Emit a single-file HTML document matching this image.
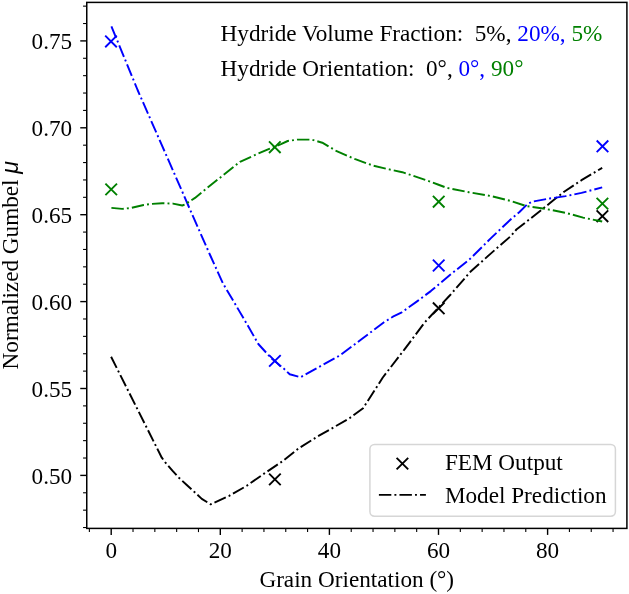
<!DOCTYPE html><html><head><meta charset="utf-8"><style>html,body{margin:0;padding:0;background:#fff;}svg{display:block;will-change:transform;}text{font-family:"Liberation Serif",serif;white-space:pre;}</style></head><body>
<svg width="629" height="594" viewBox="0 0 629 594">
<rect width="629" height="594" fill="#fff"/>
<path d="M105.20,35.65L116.80,47.25M105.20,47.25L116.80,35.65" stroke="#0000ff" stroke-width="1.9" fill="none"/>
<path d="M269.10,355.10L280.70,366.70M269.10,366.70L280.70,355.10" stroke="#0000ff" stroke-width="1.9" fill="none"/>
<path d="M432.90,259.70L444.50,271.30M432.90,271.30L444.50,259.70" stroke="#0000ff" stroke-width="1.9" fill="none"/>
<path d="M596.70,140.50L608.30,152.10M596.70,152.10L608.30,140.50" stroke="#0000ff" stroke-width="1.9" fill="none"/>
<path d="M105.40,183.60L117.00,195.20M105.40,195.20L117.00,183.60" stroke="#008000" stroke-width="1.9" fill="none"/>
<path d="M269.00,141.40L280.60,153.00M269.00,153.00L280.60,141.40" stroke="#008000" stroke-width="1.9" fill="none"/>
<path d="M432.90,195.90L444.50,207.50M432.90,207.50L444.50,195.90" stroke="#008000" stroke-width="1.9" fill="none"/>
<path d="M596.60,197.80L608.20,209.40M596.60,209.40L608.20,197.80" stroke="#008000" stroke-width="1.9" fill="none"/>
<path d="M269.10,473.55L280.70,485.15M269.10,485.15L280.70,473.55" stroke="#000000" stroke-width="1.9" fill="none"/>
<path d="M432.90,302.50L444.50,314.10M432.90,314.10L444.50,302.50" stroke="#000000" stroke-width="1.9" fill="none"/>
<path d="M596.60,210.40L608.20,222.00M596.60,222.00L608.20,210.40" stroke="#000000" stroke-width="1.9" fill="none"/>
<polyline points="111.1,356.8 161.8,457.7 165.3,462.4 172.4,470.6 178.9,477.7 186.5,484.8 194.2,491.8 201.8,498.9 210.6,504.3 229.2,495.8 246.7,485.8 263.7,473.9 266.8,471.8 282.7,461.1 298.6,448.4 317.7,436.4 333.6,427.4 349.5,418.2 363.1,408.2 370.0,397.5 382.8,377.5 404.7,349.1 424.4,322.8 450.2,295.0 470.4,271.8 490.7,253.6 510.9,236.0 516.4,229.5 533.8,216.0 549.7,203.3 564.1,191.7 581.5,180.2 602.2,167.8" fill="none" stroke="#000000" stroke-width="1.94" stroke-dasharray="12.42 3.10 1.94 3.10" stroke-linejoin="round"/>
<polyline points="111.4,26.3 137.6,90.0 180.5,187.6 191.3,212.5 210.3,255.5 222.9,283.3 235.6,304.8 248.2,326.3 258.3,344.0 271.0,357.9 283.6,368.4 289.7,374.3 300.6,377.2 317.3,367.9 339.5,355.7 361.8,339.0 384.0,322.3 392.9,316.7 401.8,312.3 417.4,301.1 430.8,291.1 450.2,274.8 470.4,258.6 490.7,238.4 510.9,219.2 519.5,212.0 527.5,204.1 532.3,201.7 549.7,198.5 565.6,196.1 581.5,192.9 602.2,187.4" fill="none" stroke="#0000ff" stroke-width="1.94" stroke-dasharray="12.42 3.10 1.94 3.10" stroke-linejoin="round"/>
<polyline points="111.4,207.9 122.2,208.9 131.5,207.9 143.6,205.0 152.2,203.9 162.2,203.2 173.0,203.6 182.3,205.5 185.1,204.3 195.0,197.9 210.5,185.3 240.0,161.8 254.3,155.3 268.6,149.1 281.0,144.1 287.7,141.0 297.3,139.6 311.6,139.6 322.3,142.7 335.5,150.5 354.6,158.9 373.6,165.8 389.2,169.4 402.3,172.2 424.5,179.6 437.9,184.5 446.8,187.8 469.0,192.3 491.3,196.1 511.6,201.2 525.9,206.0 545.0,208.8 565.6,212.8 583.1,217.6 602.2,221.5" fill="none" stroke="#008000" stroke-width="1.94" stroke-dasharray="12.42 3.10 1.94 3.10" stroke-linejoin="round"/>
<rect x="86.75" y="2.4" width="540.15" height="526.0" fill="none" stroke="#000" stroke-width="1.5"/>
<line x1="89.38" y1="528.4" x2="89.38" y2="532.1" stroke="#000" stroke-width="1.1"/><line x1="111.20" y1="528.4" x2="111.20" y2="534.9" stroke="#000" stroke-width="1.4"/><line x1="133.02" y1="528.4" x2="133.02" y2="532.1" stroke="#000" stroke-width="1.1"/><line x1="154.84" y1="528.4" x2="154.84" y2="532.1" stroke="#000" stroke-width="1.1"/><line x1="176.66" y1="528.4" x2="176.66" y2="532.1" stroke="#000" stroke-width="1.1"/><line x1="198.48" y1="528.4" x2="198.48" y2="532.1" stroke="#000" stroke-width="1.1"/><line x1="220.30" y1="528.4" x2="220.30" y2="534.9" stroke="#000" stroke-width="1.4"/><line x1="242.12" y1="528.4" x2="242.12" y2="532.1" stroke="#000" stroke-width="1.1"/><line x1="263.94" y1="528.4" x2="263.94" y2="532.1" stroke="#000" stroke-width="1.1"/><line x1="285.76" y1="528.4" x2="285.76" y2="532.1" stroke="#000" stroke-width="1.1"/><line x1="307.58" y1="528.4" x2="307.58" y2="532.1" stroke="#000" stroke-width="1.1"/><line x1="329.40" y1="528.4" x2="329.40" y2="534.9" stroke="#000" stroke-width="1.4"/><line x1="351.22" y1="528.4" x2="351.22" y2="532.1" stroke="#000" stroke-width="1.1"/><line x1="373.04" y1="528.4" x2="373.04" y2="532.1" stroke="#000" stroke-width="1.1"/><line x1="394.86" y1="528.4" x2="394.86" y2="532.1" stroke="#000" stroke-width="1.1"/><line x1="416.68" y1="528.4" x2="416.68" y2="532.1" stroke="#000" stroke-width="1.1"/><line x1="438.50" y1="528.4" x2="438.50" y2="534.9" stroke="#000" stroke-width="1.4"/><line x1="460.32" y1="528.4" x2="460.32" y2="532.1" stroke="#000" stroke-width="1.1"/><line x1="482.14" y1="528.4" x2="482.14" y2="532.1" stroke="#000" stroke-width="1.1"/><line x1="503.96" y1="528.4" x2="503.96" y2="532.1" stroke="#000" stroke-width="1.1"/><line x1="525.78" y1="528.4" x2="525.78" y2="532.1" stroke="#000" stroke-width="1.1"/><line x1="547.60" y1="528.4" x2="547.60" y2="534.9" stroke="#000" stroke-width="1.4"/><line x1="569.42" y1="528.4" x2="569.42" y2="532.1" stroke="#000" stroke-width="1.1"/><line x1="591.24" y1="528.4" x2="591.24" y2="532.1" stroke="#000" stroke-width="1.1"/><line x1="613.06" y1="528.4" x2="613.06" y2="532.1" stroke="#000" stroke-width="1.1"/><line x1="83.05" y1="527.54" x2="86.75" y2="527.54" stroke="#000" stroke-width="1.1"/><line x1="83.05" y1="510.16" x2="86.75" y2="510.16" stroke="#000" stroke-width="1.1"/><line x1="83.05" y1="492.78" x2="86.75" y2="492.78" stroke="#000" stroke-width="1.1"/><line x1="80.25" y1="475.40" x2="86.75" y2="475.40" stroke="#000" stroke-width="1.4"/><line x1="83.05" y1="458.02" x2="86.75" y2="458.02" stroke="#000" stroke-width="1.1"/><line x1="83.05" y1="440.64" x2="86.75" y2="440.64" stroke="#000" stroke-width="1.1"/><line x1="83.05" y1="423.26" x2="86.75" y2="423.26" stroke="#000" stroke-width="1.1"/><line x1="83.05" y1="405.88" x2="86.75" y2="405.88" stroke="#000" stroke-width="1.1"/><line x1="80.25" y1="388.50" x2="86.75" y2="388.50" stroke="#000" stroke-width="1.4"/><line x1="83.05" y1="371.12" x2="86.75" y2="371.12" stroke="#000" stroke-width="1.1"/><line x1="83.05" y1="353.74" x2="86.75" y2="353.74" stroke="#000" stroke-width="1.1"/><line x1="83.05" y1="336.36" x2="86.75" y2="336.36" stroke="#000" stroke-width="1.1"/><line x1="83.05" y1="318.98" x2="86.75" y2="318.98" stroke="#000" stroke-width="1.1"/><line x1="80.25" y1="301.60" x2="86.75" y2="301.60" stroke="#000" stroke-width="1.4"/><line x1="83.05" y1="284.22" x2="86.75" y2="284.22" stroke="#000" stroke-width="1.1"/><line x1="83.05" y1="266.84" x2="86.75" y2="266.84" stroke="#000" stroke-width="1.1"/><line x1="83.05" y1="249.46" x2="86.75" y2="249.46" stroke="#000" stroke-width="1.1"/><line x1="83.05" y1="232.08" x2="86.75" y2="232.08" stroke="#000" stroke-width="1.1"/><line x1="80.25" y1="214.70" x2="86.75" y2="214.70" stroke="#000" stroke-width="1.4"/><line x1="83.05" y1="197.32" x2="86.75" y2="197.32" stroke="#000" stroke-width="1.1"/><line x1="83.05" y1="179.94" x2="86.75" y2="179.94" stroke="#000" stroke-width="1.1"/><line x1="83.05" y1="162.56" x2="86.75" y2="162.56" stroke="#000" stroke-width="1.1"/><line x1="83.05" y1="145.18" x2="86.75" y2="145.18" stroke="#000" stroke-width="1.1"/><line x1="80.25" y1="127.80" x2="86.75" y2="127.80" stroke="#000" stroke-width="1.4"/><line x1="83.05" y1="110.42" x2="86.75" y2="110.42" stroke="#000" stroke-width="1.1"/><line x1="83.05" y1="93.04" x2="86.75" y2="93.04" stroke="#000" stroke-width="1.1"/><line x1="83.05" y1="75.66" x2="86.75" y2="75.66" stroke="#000" stroke-width="1.1"/><line x1="83.05" y1="58.28" x2="86.75" y2="58.28" stroke="#000" stroke-width="1.1"/><line x1="80.25" y1="40.90" x2="86.75" y2="40.90" stroke="#000" stroke-width="1.4"/><line x1="83.05" y1="23.52" x2="86.75" y2="23.52" stroke="#000" stroke-width="1.1"/><line x1="83.05" y1="6.14" x2="86.75" y2="6.14" stroke="#000" stroke-width="1.1"/>
<text x="111.20" y="557.5" font-size="23.2" text-anchor="middle">0</text>
<text x="220.30" y="557.5" font-size="23.2" text-anchor="middle">20</text>
<text x="329.40" y="557.5" font-size="23.2" text-anchor="middle">40</text>
<text x="438.50" y="557.5" font-size="23.2" text-anchor="middle">60</text>
<text x="547.60" y="557.5" font-size="23.2" text-anchor="middle">80</text>
<text x="72.2" y="483.50" font-size="23.2" text-anchor="end">0.50</text>
<text x="72.2" y="396.60" font-size="23.2" text-anchor="end">0.55</text>
<text x="72.2" y="309.70" font-size="23.2" text-anchor="end">0.60</text>
<text x="72.2" y="222.80" font-size="23.2" text-anchor="end">0.65</text>
<text x="72.2" y="135.90" font-size="23.2" text-anchor="end">0.70</text>
<text x="72.2" y="49.00" font-size="23.2" text-anchor="end">0.75</text>
<text x="356.75" y="587" font-size="23.2" text-anchor="middle">Grain Orientation (°)</text>
<text transform="translate(17.7,265.2) rotate(-90)" font-size="23.2" text-anchor="middle">Normalized Gumbel <tspan font-style="italic" font-family="Liberation Sans">μ</tspan></text>
<text x="220.6" y="41.2" font-size="23.2">Hydride Volume Fraction:  5%, <tspan fill="#0000ff">20%,</tspan><tspan fill="#008000"> 5%</tspan></text>
<text x="220.6" y="75.6" font-size="23.2">Hydride Orientation:  0°, <tspan fill="#0000ff">0°,</tspan><tspan fill="#008000"> 90°</tspan></text>
<rect x="369.9" y="444.5" width="245.5" height="71.7" rx="4.6" ry="4.6" fill="#fff" fill-opacity="0.8" stroke="#d6d6d6" stroke-width="1.5"/>
<path d="M396.60,457.80L408.20,469.40M396.60,469.40L408.20,457.80" stroke="#000" stroke-width="1.9" fill="none"/>
<line x1="378.9" y1="494.85" x2="425.9" y2="494.85" stroke="#000" stroke-width="1.94" stroke-dasharray="12.42 3.10 1.94 3.10"/>
<text x="444.9" y="469.5" font-size="23.2">FEM Output</text>
<text x="444.9" y="503" font-size="23.2">Model Prediction</text>
</svg></body></html>
